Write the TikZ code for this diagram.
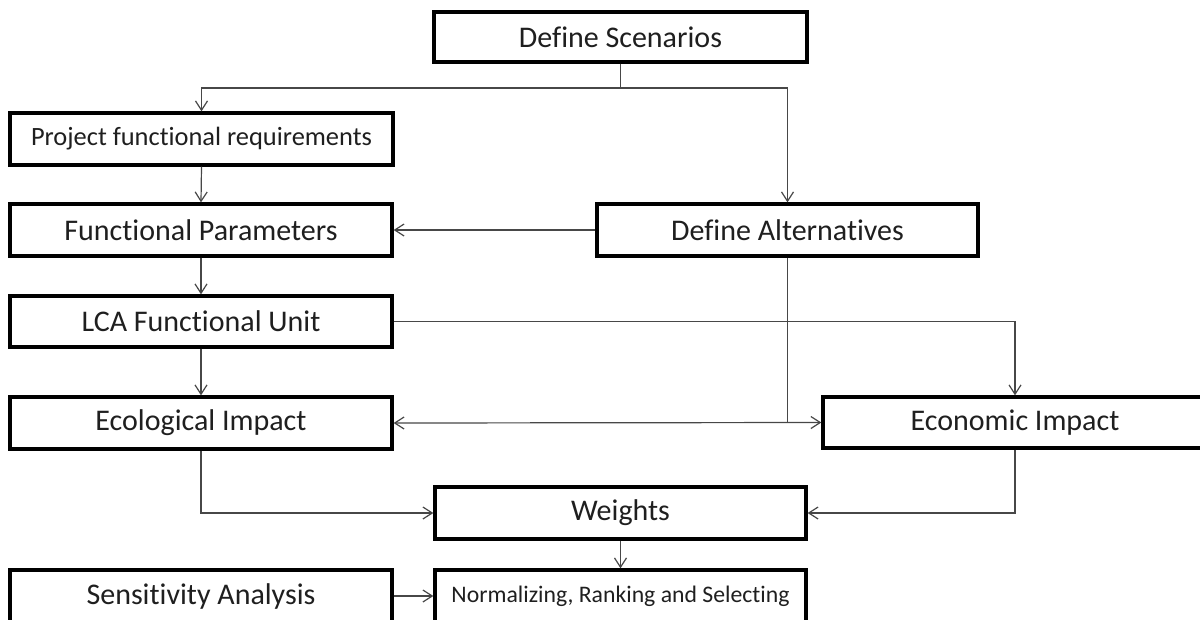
\documentclass[tikz,border=0pt]{standalone}
\usepackage{fontspec}
\setmainfont{Carlito}[RawFeature={-liga;-dlig;-clig;-calt}]
\usetikzlibrary{arrows.meta}
\begin{document}
\begin{tikzpicture}[x=0.75pt,y=-0.75pt,
  box/.style={draw=black, line width=2.5pt, fill=white, inner sep=0pt,
    text=black!88, font=\fontsize{22.5}{27}\selectfont},
  small/.style={font=\fontsize{19.8}{24}\selectfont},
  smaller/.style={font=\fontsize{17.8}{22}\selectfont},
  wire/.style={draw=black!72, line width=0.9pt},
  link/.style={wire, -{Straight Barb[length=7pt,width=9pt]}},
  both/.style={wire, {Straight Barb[length=7pt,width=9pt]}-{Straight Barb[length=7pt,width=9pt]}}]
\useasboundingbox (0,0) rectangle (1200,619);

% boxes
\node[box, minimum width=373*0.75pt, minimum height=50*0.75pt] (scen) at (620.5,37) {Define Scenarios};
\node[box, small, minimum width=383*0.75pt, minimum height=52*0.75pt] (proj) at (201.5,139) {Project functional requirements};
\node[box, minimum width=382*0.75pt, minimum height=52*0.75pt] (fp) at (201,230) {Functional Parameters};
\node[box, minimum width=381*0.75pt, minimum height=52*0.75pt] (alt) at (787.5,230) {Define Alternatives};
\node[box, minimum width=382*0.75pt, minimum height=51*0.75pt] (lca) at (201,321.5) {LCA Functional Unit};
\node[box, minimum width=382*0.75pt, minimum height=52*0.75pt] (eco) at (201,423) {Ecological Impact};
\node[box, minimum width=384*0.75pt, minimum height=51*0.75pt] (econ) at (1015,422.5) {Economic Impact};
\node[box, minimum width=371*0.75pt, minimum height=52*0.75pt] (wts) at (620.5,513) {Weights};
\node[box, smaller, minimum width=371*0.75pt, minimum height=52*0.75pt] (norm) at (620.5,596) {Normalizing, Ranking and Selecting};
\node[box, minimum width=382*0.75pt, minimum height=52*0.75pt] (sens) at (201,596) {Sensitivity Analysis};

% branching from the scenarios
\coordinate (split) at (620.5,88);
\draw[wire] (scen.south) -- (split);
\draw[link] (split) -| (proj.north);
\draw[link] (split) -| (alt.north);

% left column
\draw[link] (proj.south) -- (fp.north);
\draw[link] (fp.south) -- (lca.north);
\draw[link] (lca.south) -- (eco.north);
\draw[link] (alt.west) -- (fp.east);

% functional unit to economic impact
\draw[link] (lca.east) -| (econ.north);

% alternatives feed both impacts
\coordinate (join) at (alt.south |- eco.east);
\draw[wire] (alt.south) -- (join);
\draw[both] (eco.east) -- (econ.west);

% impacts to weights
\draw[link] (eco.south) |- (wts.west);
\draw[link] (econ.south) |- (wts.east);

% final step
\draw[link] (wts.south) -- (norm.north);
\draw[link] (sens.east) -- (norm.west);
\end{tikzpicture}
\end{document}
